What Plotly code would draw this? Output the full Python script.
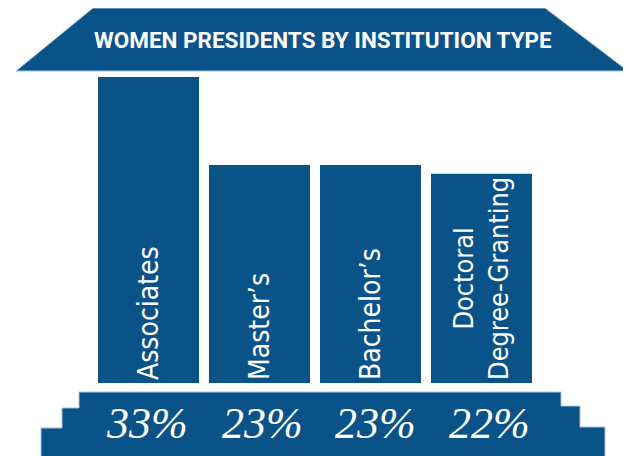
import plotly.graph_objects as go

W, H = 631, 456
PAGE_MARGIN = 8  # default body margin of the html page shifts the figure

categories = ["Associates", "Master’s", "Bachelor’s", "Doctoral<br>Degree-Granting"]
values = [33, 23, 23, 22]
pct_labels = [f"{v}%" for v in values]
title_text = "WOMEN PRESIDENTS BY INSTITUTION TYPE"

BLUE = "#0a5389"
EDGE = "#a9c0d8"
BASE_OFFSET = 1.77  # bars rise from a plinth slightly below zero
PCT_SHIFTS = [-2, 3, 5, 8]  # hand-set nudges of the percentage labels


def px(x):
    return (x - PAGE_MARGIN) / W


def py(y):
    return 1 - (y - PAGE_MARGIN) / H


def path(points):
    return "M " + " L ".join(f"{px(x):.5f},{py(y):.5f}" for x, y in points) + " Z"


fig = go.Figure()
fig.add_trace(go.Bar(
    x=list(range(len(categories))),
    y=[v + BASE_OFFSET for v in values],
    base=-BASE_OFFSET,
    marker=dict(color=BLUE, line=dict(width=0)),
    text=categories,
    textposition="inside",
    insidetextanchor="start",
    textangle=-90,
    textfont=dict(family="DejaVu Sans Condensed, sans-serif", size=28, color="white"),
    hoverinfo="skip",
    cliponaxis=False,
))

roof = [(93, 8), (545, 8), (628, 71), (16, 71)]
plinth = [(79, 392), (561, 392), (561, 406), (580, 406), (580, 427), (605, 427),
          (605, 470), (41, 470), (41, 428), (62, 428), (62, 408), (79, 408)]

shapes = [
    dict(type="path", xref="paper", yref="paper", path=path(roof),
         fillcolor=BLUE, line=dict(color=EDGE, width=1), layer="below"),
    dict(type="path", xref="paper", yref="paper", path=path(plinth),
         fillcolor=BLUE, line=dict(color=EDGE, width=1), layer="below"),
]

annotations = [
    dict(text=title_text, xref="paper", yref="paper", x=px(323), y=py(40),
         xanchor="center", yanchor="middle", showarrow=False,
         font=dict(family="Roboto, sans-serif", size=22.5, color="white", weight="bold")),
]
for i, t in enumerate(pct_labels):
    annotations.append(dict(text=t, x=i, xref="x", yref="paper", y=py(423),
                            xshift=PCT_SHIFTS[i],
                            xanchor="center", yanchor="middle", showarrow=False,
                            font=dict(family="Liberation Serif, serif", size=44,
                                      color="white", style="italic")))

fig.update_layout(
    width=W, height=H,
    margin=dict(l=0, r=0, t=0, b=0),
    paper_bgcolor="white", plot_bgcolor="white",
    showlegend=False,
    bargap=0.09,
    shapes=shapes,
    annotations=annotations,
    xaxis=dict(domain=[px(93), px(537)], range=[-0.5, len(categories) - 0.5],
               showgrid=False, zeroline=False, showticklabels=False, showline=False),
    yaxis=dict(domain=[py(383), py(77)], range=[-BASE_OFFSET, max(values)],
               showgrid=False, zeroline=False, showticklabels=False, showline=False),
    uniformtext=dict(mode=False),
)

fig.write_html("out.html")
